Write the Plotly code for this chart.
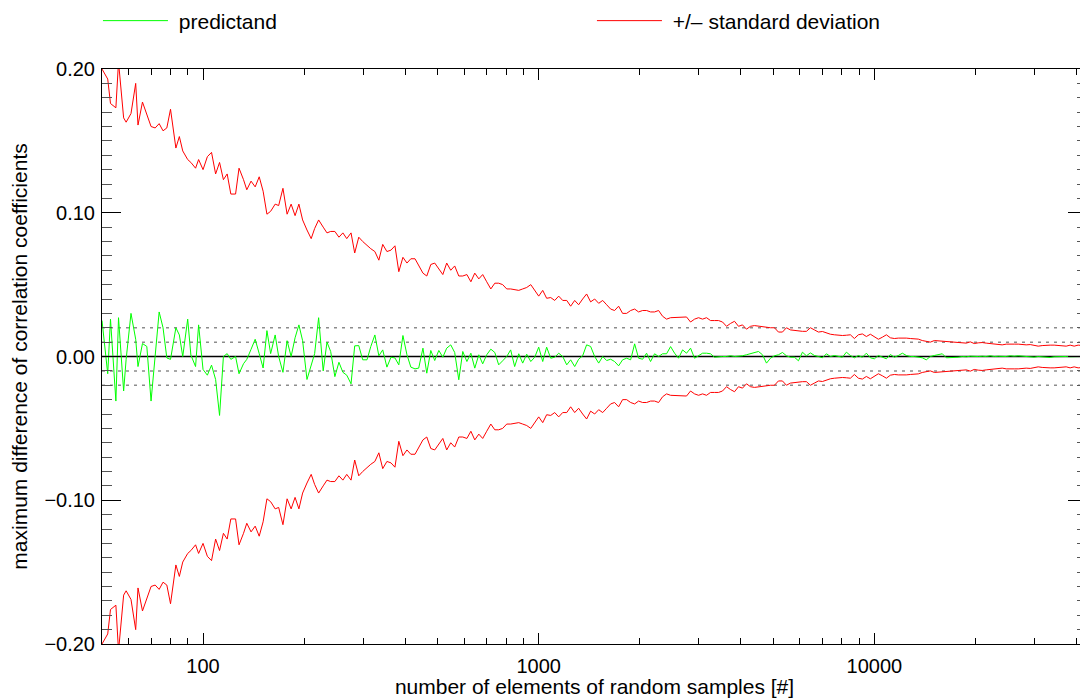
import math
import plotly.graph_objects as go

# Sample sizes (number of elements of the random samples)
sample_sizes = [
    50, 52, 53, 55, 56, 58, 59, 61, 63, 64, 66, 68, 70, 72, 74, 76, 78, 80, 83, 85,
    87, 90, 92, 95, 97,
    100, 103, 106, 109, 112, 115, 118, 121, 125, 128, 132, 135, 139, 143, 147, 151,
    155, 159, 164, 168, 173, 178, 183, 188, 193, 198, 204, 210, 215, 221, 228, 234,
    240, 247, 254, 261, 268, 276, 283, 291, 299, 308, 316, 325, 334, 343, 353, 363,
    373, 383, 394, 405, 416, 428, 439, 452, 464, 477, 490, 504, 518, 532, 547, 562,
    578, 594, 611, 628, 645, 663, 681, 700, 720, 740, 760, 781, 803, 825, 848, 872,
    896, 921, 947, 973,
    1000, 1028, 1056, 1086, 1116, 1147, 1179, 1212, 1245, 1280, 1315, 1352, 1389,
    1428, 1468, 1509, 1551, 1594, 1638, 1683, 1730, 1778, 1828, 1879, 1931, 1984,
    2040, 2096, 2154, 2214, 2276, 2339, 2404, 2471, 2540, 2610, 2683, 2757, 2834,
    2913, 2994, 3077, 3162, 3250, 3340, 3433, 3529, 3627, 3728, 3831, 3938, 4047,
    4159, 4275, 4394, 4516, 4642, 4771, 4903, 5039, 5179, 5323, 5471, 5623, 5780,
    5940, 6105, 6275, 6449, 6629, 6813, 7002, 7197, 7397, 7602, 7814, 8031, 8254,
    8483, 8719, 8962, 9211, 9466, 9730,
    10000, 10280, 10560, 10860, 11160, 11470, 11790, 12120, 12450, 12800, 13150,
    13520, 13890, 14280, 14680, 15090, 15510, 15940, 16380, 16830, 17300, 17780,
    18280, 18790, 19310, 19840, 20400, 20960, 21540, 22140, 22760, 23390, 24040,
    24710, 25400, 26100, 26830, 27570, 28340, 29130, 29940, 30770, 31620, 32500,
    33400, 34330, 35290, 36270, 37280, 38310, 39380, 40470, 41590, 42750, 43940,
]

# Standard deviation of the differences (drawn as +/-)
std_dev = [
    0.200, 0.193, 0.176, 0.173, 0.205, 0.166, 0.163, 0.169, 0.190, 0.161,
    0.177, 0.169, 0.160, 0.159, 0.162, 0.157, 0.159, 0.172, 0.145, 0.153,
    0.143, 0.137, 0.135, 0.131, 0.137, 0.130, 0.139, 0.142, 0.127, 0.135,
    0.123, 0.127, 0.113, 0.113, 0.131, 0.123, 0.116, 0.122, 0.118, 0.125,
    0.115, 0.099, 0.101, 0.106, 0.105, 0.117, 0.099, 0.106, 0.098, 0.106,
    0.095, 0.088, 0.082, 0.089, 0.095, 0.090, 0.086, 0.087, 0.087, 0.083,
    0.086, 0.082, 0.086, 0.072, 0.083, 0.080, 0.077, 0.075, 0.073, 0.067,
    0.078, 0.073, 0.074, 0.077, 0.059, 0.069, 0.065, 0.068, 0.068, 0.063,
    0.058, 0.056, 0.064, 0.065, 0.061, 0.057, 0.065, 0.060, 0.063, 0.056,
    0.056, 0.057, 0.052, 0.058, 0.054, 0.057, 0.052, 0.047, 0.051, 0.051,
    0.050, 0.047, 0.047, 0.0465, 0.046, 0.047, 0.048, 0.050, 0.046, 0.042,
    0.046, 0.0405, 0.041, 0.039, 0.042, 0.039, 0.039, 0.035, 0.039, 0.036,
    0.040, 0.0435, 0.038, 0.040, 0.037, 0.039, 0.036, 0.033, 0.032, 0.035,
    0.030, 0.030, 0.032, 0.033, 0.031, 0.032, 0.032, 0.031, 0.031, 0.032,
    0.028, 0.026, 0.027, 0.027, 0.027, 0.027, 0.0275, 0.024, 0.026, 0.027,
    0.026, 0.027, 0.025, 0.025, 0.025, 0.024, 0.021, 0.023, 0.0245, 0.021,
    0.022, 0.019, 0.021, 0.0215, 0.021, 0.021, 0.0205, 0.020, 0.020, 0.017,
    0.017, 0.020, 0.0185, 0.018, 0.018, 0.0175, 0.0175, 0.020, 0.0185, 0.017,
    0.0174, 0.0162, 0.0155, 0.0151, 0.0148, 0.0146, 0.0148, 0.0151, 0.0125, 0.0151,
    0.0157, 0.0139, 0.0155, 0.0139, 0.0120, 0.0134, 0.0151, 0.0130, 0.0125, 0.0128,
    0.0130, 0.0128, 0.0125, 0.0123, 0.0121, 0.0111, 0.0104, 0.0100, 0.0111, 0.0109,
    0.0107, 0.0104, 0.0102, 0.0100, 0.0100, 0.0097, 0.0093, 0.0102, 0.0090, 0.0095,
    0.0097, 0.0093, 0.0090, 0.0088, 0.0083, 0.0081, 0.0086, 0.0088, 0.0086, 0.0086,
    0.0083, 0.0081, 0.0083, 0.0079, 0.0072, 0.0076, 0.0079, 0.0079, 0.0079, 0.0076,
    0.0074, 0.0072, 0.0079, 0.0072, 0.0079, 0.0074, 0.0074, 0.0073,
]

# Predictand: maximum difference of correlation coefficients
predictand = [
    0.025, -0.012, 0.026, -0.031, 0.027, -0.024, -0.002, 0.030, 0.012, -0.007,
    0.009, 0.007, -0.031, 0.000, 0.031, 0.020, -0.001, -0.002, 0.020, 0.015,
    0.000, 0.026, 0.001, -0.007, 0.022, -0.009, -0.013, -0.006, -0.016, -0.041,
    0.000, 0.002, -0.002, 0.000, -0.012, -0.005, -0.002, 0.005, 0.012, 0.002,
    -0.008, 0.018, 0.002, 0.015, 0.000, -0.011, 0.011, 0.000, 0.013, 0.022,
    0.011, -0.016, -0.005, 0.002, 0.027, -0.010, 0.010, 0.0035, -0.014, -0.004,
    -0.011, -0.013, -0.019, 0.0074, 0.0076, -0.0023, -0.0023, 0.0069, 0.015, 0.0005,
    0.0046, -0.0074, -0.0005, -0.001, -0.0058, 0.0146, 0.0012, -0.0074, -0.0086, -0.0081,
    0.0058, -0.0116, 0.0042, -0.0028, 0.0042, -0.0005, 0.0058, 0.0081, 0.0028, -0.0162,
    0.0035, -0.0035, 0.0023, -0.0081, 0.0012, -0.0051, 0.0012, 0.0051, 0.0028, -0.0058,
    -0.003, 0.0, 0.0046, -0.007, 0.0019, -0.0046, 0.0016, -0.0035, -0.0005, 0.0065,
    -0.0035, 0.0065, -0.0012, -0.0005, 0.0023, 0.0, -0.0058, -0.0023, -0.007, -0.0019,
    0.0005, 0.0081, 0.007, 0.0, -0.0046, 0.0, -0.0028, -0.0019, -0.0035, -0.0065,
    -0.0023, -0.0012, -0.0023, 0.0088, -0.0012, -0.0019, 0.0023, -0.0035, 0.0019, 0.0,
    0.0019, 0.0019, 0.0069, 0.0023, -0.0012, 0.0046, 0.0023, 0.0058, -0.0012, 0.0005,
    0.0023, 0.0023, 0.0019, -0.0005, 0.0, 0.0, 0.0, 0.0005, 0.0, 0.0,
    0.0005, 0.0012, 0.0019, 0.0023, 0.0035, 0.0012, -0.0046, -0.0012, 0.0005, 0.0012,
    0.0028, 0.0005, -0.0005, -0.0005, -0.003, 0.003, 0.0005, 0.0025, 0.0007, 0.0,
    -0.0009, 0.0019, 0.0, 0.0007, 0.0, -0.0005, 0.003, 0.0007, -0.0009, 0.0007,
    -0.0005, 0.0023, -0.0009, -0.0016, 0.0007, -0.0005, -0.0016, 0.0014, -0.0005, 0.0007,
    0.0023, 0.0007, 0.0, 0.0, -0.0005, -0.0009, -0.0023, 0.0, 0.0007, 0.0014,
    0.0019, -0.0009, -0.0009, -0.0005, -0.0005, 0.0, -0.0002, 0.0002, 0.0, 0.0,
    0.0002, 0.0, 0.0005, 0.0, 0.0002, 0.0, 0.0, 0.0005, 0.0002, 0.0005,
    0.0002, 0.0, -0.0002, -0.0005, 0.0, -0.0002, -0.0009, -0.0007, -0.0002, 0.0,
    0.0002, 0.0, -0.0002, 0.0, 0.0002, 0.0, 0.0, 0.0,
]

# Reference levels (dotted) and axis ticks
ref_levels = [-0.02, -0.01, 0.01, 0.02]
y_ticks = [-0.2, -0.1, 0.0, 0.1, 0.2]
x_ticks = [100, 1000, 10000]
x_minor_ticks = [60, 70, 80, 90, 200, 300, 400, 500, 600, 700, 800, 900,
                 2000, 3000, 4000, 5000, 6000, 7000, 8000, 9000,
                 20000, 30000, 40000]

FONT = 'Liberation Sans, Arial, Helvetica, sans-serif'

fig = go.Figure()
fig.add_trace(go.Scatter(
    x=sample_sizes, y=predictand, mode='lines', name=' predictand',
    legend='legend', line=dict(color='#00ff00', width=1)))
fig.add_trace(go.Scatter(
    x=sample_sizes, y=std_dev, mode='lines', name=' +/\u2013 standard deviation',
    legend='legend2', legendgroup='sd', line=dict(color='#ff0000', width=1)))
fig.add_trace(go.Scatter(
    x=sample_sizes, y=[-v for v in std_dev], mode='lines', showlegend=False,
    legend='legend2', legendgroup='sd', line=dict(color='#ff0000', width=1)))

for lev in ref_levels:
    fig.add_hline(y=lev, line=dict(color='#8c8c8c', width=1.5, dash='3px,5px'), layer='below')
fig.add_hline(y=0, line=dict(color='black', width=1.5), layer='below')

legend_style = dict(orientation='h', xanchor='left', y=1.0835, yanchor='middle',
                    font=dict(size=21), itemwidth=65, bgcolor='rgba(0,0,0,0)')

# the page body adds an 8px offset, so the figure is 8px smaller than the window
fig.update_layout(
    width=1080, height=690,
    margin=dict(l=94, r=1, t=61, b=54, autoexpand=False),
    showlegend=True,
    paper_bgcolor='white', plot_bgcolor='white',
    font=dict(family=FONT, size=20, color='black'),
    legend=dict(x=-0.0041, **legend_style),
    legend2=dict(x=0.4974, **legend_style),
    xaxis=dict(
        type='log', range=[math.log10(50), math.log10(43000)],
        tickmode='array', tickvals=x_ticks, ticktext=[str(v) for v in x_ticks],
        ticks='inside', ticklen=11, tickwidth=1, tickcolor='black',
        showline=True, linecolor='black', linewidth=1, mirror='ticks',
        showgrid=False, zeroline=False, tickfont=dict(size=20), ticklabelstandoff=4,
        minor=dict(tickmode='array', tickvals=x_minor_ticks, ticks='inside',
                   ticklen=6, tickwidth=1, tickcolor='black', showgrid=False),
        title=dict(text='number of elements of random samples [#]',
                   font=dict(size=21), standoff=4)),
    yaxis=dict(
        range=[-0.2, 0.2], tickmode='array', tickvals=y_ticks, tickformat='.2f',
        ticks='inside', ticklen=19, tickwidth=1, tickcolor='black',
        showline=True, linecolor='black', linewidth=1, mirror='ticks',
        showgrid=False, zeroline=False, tickfont=dict(size=20), ticklabelstandoff=2,
        minor=dict(dtick=0.01, tick0=0, ticks='inside', ticklen=10, tickwidth=1,
                   tickcolor='#555555', showgrid=False),
        title=dict(text='maximum difference of correlation coefficients',
                   font=dict(size=21), standoff=14)),
)

fig.write_html('out.html')
